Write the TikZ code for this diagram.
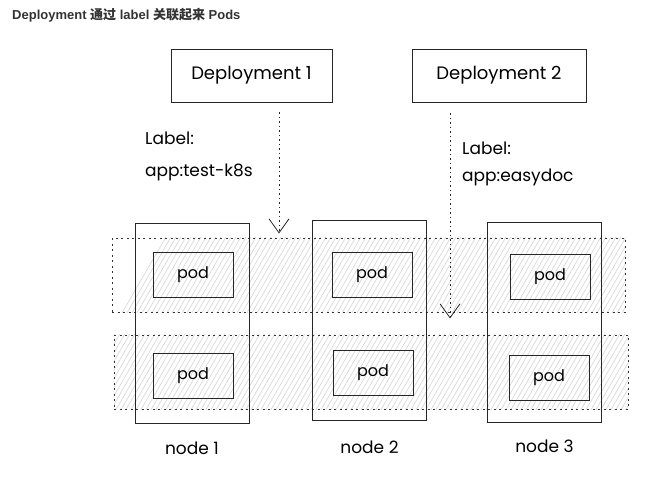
\documentclass[tikz,border=0pt]{standalone}
\usepackage{fontspec}
\setmainfont{Poppins}
\newfontfamily\titlefont{Liberation Sans}
\newfontfamily\cjk{Noto Sans CJK SC}
\usetikzlibrary{arrows.meta, positioning, calc}

\begin{document}
\begin{tikzpicture}[
    x=1pt, y=-1pt,
    box/.style={rectangle, draw=black!85, line width=1pt, inner sep=0pt, minimum height=53pt, font=\fontsize{18}{20}\selectfont},
    row/.style={rectangle, draw=black!80, line width=1pt, dash pattern=on 2pt off 3.5pt, inner sep=0pt},
    hatch/.style={draw=black!17, line width=0.6pt},
    nodecol/.style={rectangle, draw=black!85, line width=1pt, inner sep=0pt, minimum width=114pt, minimum height=200pt},
    pod/.style={rectangle, draw=black!85, line width=1pt, inner sep=0pt, minimum width=80pt, minimum height=45pt, font=\fontsize{16}{17}\selectfont},
    lbl/.style={inner sep=0pt, align=left, font=\fontsize{17}{20}\selectfont},
    arrow/.style={draw=black!85, line width=1pt, dash pattern=on 1.5pt off 3pt, -{Straight Barb[length=14pt, width=20pt, line width=0.8pt]}}
]
    \useasboundingbox (0,0) rectangle (664,482);

    % title
    \node (title) [anchor=west, inner sep=0pt, text=black!80, font=\titlefont\bfseries\fontsize{13}{15}\selectfont] at (12,15) {Deployment {\cjk 通过} label {\cjk 关联起来} Pods};

    % rows of hosts (hatched)
    \node (row1) [row, minimum width=513pt, minimum height=74pt] at (368.5,275) {};
    \node (row2) [row, minimum width=514pt, minimum height=74pt] at (371,372) {};
    \foreach \r in {row1, row2} {
        \begin{scope}
            \clip (\r.north west) rectangle (\r.south east);
            \foreach \x in {60,65,...,640}
                \draw [hatch] (\x,420) -- (\x+110,230);
        \end{scope}
    }
    \node [row, minimum width=513pt, minimum height=74pt] at (row1) {};
    \node [row, minimum width=514pt, minimum height=74pt] at (row2) {};

    % nodes
    \node (col1) [nodecol] at (192,323) {};
    \node (col2) [nodecol] at (369.5,320) {};
    \node (col3) [nodecol] at (544.5,322.5) {};

    % pods
    \node (pod1a) [pod] at (193,274.5) {pod};
    \node (pod1b) [pod] at (193,375.5) {pod};
    \node (pod2a) [pod] at (372,274.5) {pod};
    \node (pod2b) [pod] at (373,372.5) {pod};
    \node (pod3a) [pod] at (550,276.5) {pod};
    \node (pod3b) [pod] at (549,377.5) {pod};

    \node (nl1) [lbl, below=18pt of col1] {node 1};
    \node (nl2) [lbl, below=20pt of col2] {node 2};
    \node (nl3) [lbl, below=17pt of col3] {node 3};

    % deployments
    \node (dep1) [box, minimum width=161pt] at (251.5,75.5) {Deployment 1};
    \node (dep2) [box, minimum width=174pt] at (499,75.5) {Deployment 2};

    \node (lab1) [lbl, anchor=north west] at (145,132) {Label:\\[12pt]app:test-k8s};
    \node (lab2) [lbl, anchor=north west] at (462,142) {Label:\\[7pt]app:easydoc};

    % selectors
    \coordinate (a1) at (279,112);
    \coordinate (a2) at (450,113);
    \draw [arrow, shorten >=4pt] (a1) -- (a1 |- row1.north);
    \draw [arrow, shorten >=-6pt] (a2) -- (a2 |- row1.south);
\end{tikzpicture}
\end{document}
